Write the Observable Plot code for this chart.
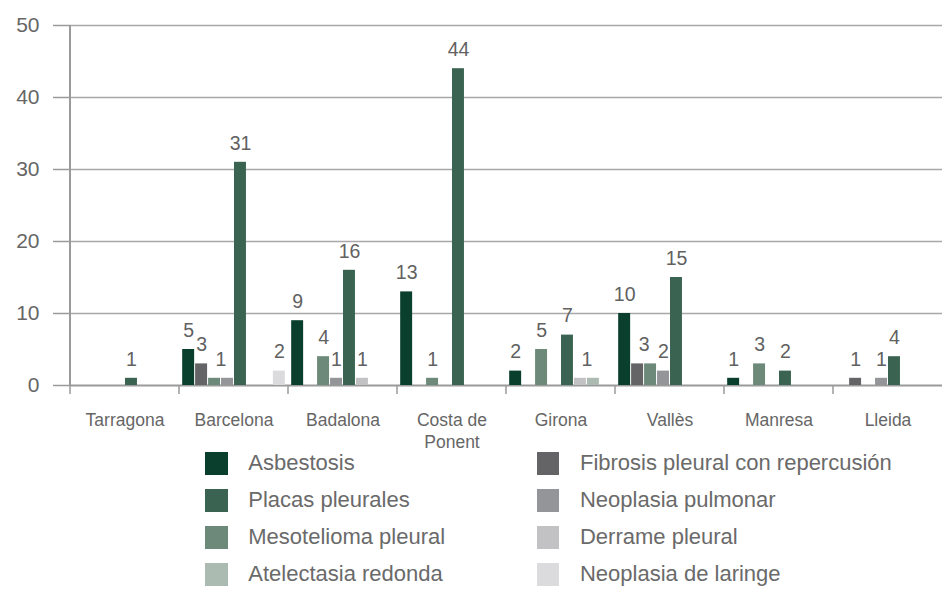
<!DOCTYPE html>
<html><head><meta charset="utf-8">
<script src="https://cdn.jsdelivr.net/npm/d3@7"></script>
<script src="https://cdn.jsdelivr.net/npm/@observablehq/plot@0.6"></script>
<style>
body{margin:0;background:#fff;font-family:"Liberation Sans",Arial,sans-serif;}
#chart svg{display:block;}
#legend{display:grid;grid-template-columns:331.7px auto;grid-template-rows:repeat(4,22.5px);row-gap:14.5px;grid-auto-flow:column;padding-left:205px;margin-top:-8px;}
.item{display:flex;align-items:center;font-size:22px;color:#6a6a6a;white-space:nowrap;}
.sw{width:22.7px;height:22.5px;margin-right:20.6px;flex:none;}
</style></head><body><div id="chart"></div><div id="legend"></div>
<script>
const regions = ["Tarragona","Barcelona","Badalona","Costa de Ponent","Girona","Vallès","Manresa","Lleida"];
const series = ["Asbestosis","Fibrosis pleural con repercusión","Mesotelioma pleural","Neoplasia pulmonar","Placas pleurales","Derrame pleural","Atelectasia redonda","Neoplasia de laringe"];
const colors = ["#0b3f2d","#646466","#6c8979","#949598","#3a6451","#c2c2c5","#abbbb1","#dbdbdd"];
const legendOrder = ["Asbestosis","Placas pleurales","Mesotelioma pleural","Atelectasia redonda","Fibrosis pleural con repercusión","Neoplasia pulmonar","Derrame pleural","Neoplasia de laringe"];
const asbestosis        = [0, 5, 9, 13, 2, 10, 1, 0];
const fibrosis          = [0, 3, 0, 0, 0, 3, 0, 1];
const mesotelioma       = [0, 1, 4, 1, 5, 3, 3, 0];
const neoplasiaPulmonar = [0, 1, 1, 0, 0, 2, 0, 1];
const placas            = [1, 31, 16, 44, 7, 15, 2, 4];
const derrame           = [0, 0, 1, 0, 1, 0, 0, 0];
const atelectasia       = [0, 0, 0, 0, 1, 0, 0, 0];
const laringe           = [0, 2, 0, 0, 0, 0, 0, 0];
const yTicks = [0, 10, 20, 30, 40, 50];

const valuesBySeries = [asbestosis, fibrosis, mesotelioma, neoplasiaPulmonar, placas, derrame, atelectasia, laringe];
const data = [];
regions.forEach((r, i) => series.forEach((s, k) => {
  const v = valuesBySeries[k][i];
  if (v > 0) data.push({region: r, series: s, value: v});
}));
// labels: adjacent equal values share one centered label
const single = [], merged = [];
regions.forEach((r, i) => {
  for (let k = 0; k < series.length; k++) {
    const v = valuesBySeries[k][i];
    if (!(v > 0)) continue;
    if (k + 1 < series.length && valuesBySeries[k + 1][i] === v) {
      merged.push({region: r, series: series[k], value: v});
      k++;
    } else single.push({region: r, series: series[k], value: v});
  }
});

function build(mdx) {
  return Plot.plot({
    width: 943, height: 460,
    marginLeft: 68, marginRight: 0, marginTop: 25, marginBottom: 75,
    style: {fontFamily: "'Liberation Sans', Arial, sans-serif", background: "#fff", fontSize: "17px"},
    fx: {domain: regions, padding: 0, label: null},
    x: {domain: series, paddingInner: 1/13, paddingOuter: 0.245, axis: null, round: false},
    y: {domain: [0, 50], label: null},
    color: {domain: series, range: colors},
    marks: [
      Plot.gridY(yTicks.slice(1), {stroke: "#a8a8a8", strokeOpacity: 1, strokeWidth: 1.5}),
      Plot.ruleY([0], {stroke: "#9a9a9a", strokeWidth: 2}),
      Plot.axisY(yTicks, {tickSize: 17, tickPadding: 14, fontSize: 21, fill: "#666", stroke: "#9a9a9a", strokeWidth: 1.5, label: null}),
      Plot.axisFx({anchor: "bottom", tickSize: 0, tickPadding: 25, fontSize: 17.5, lineWidth: 6, lineHeight: 1.24, fill: "#666", label: null}),
      Plot.barY(data, {fx: "region", x: "series", y: "value", fill: "series"}),
      Plot.text(single, {fx: "region", x: "series", y: "value", text: d => String(d.value), dy: -19, fontSize: 19.5, fill: "#616161"}),
      Plot.text(merged, {fx: "region", x: "series", y: "value", text: d => String(d.value), dy: -19, dx: mdx, fontSize: 19.5, fill: "#616161"})
    ]
  });
}
let plot = build(0);
const xs = plot.scale("x");
const step = xs.step ?? (xs.bandwidth / (1 - (xs.paddingInner ?? 0)));
plot = build(step / 2);
document.getElementById("chart").appendChild(plot);

// axis line and category boundary ticks
const fx = plot.scale("fx"), y = plot.scale("y");
const svg = d3.select(plot);
const y0 = y.apply(0), yTop = y.apply(50);
const x0 = fx.apply(regions[0]);
svg.append("line").attr("x1", x0).attr("x2", x0).attr("y1", yTop).attr("y2", y0)
  .attr("stroke", "#9a9a9a").attr("stroke-width", 2);
regions.forEach(r => {
  const xb = fx.apply(r);
  svg.append("line").attr("x1", xb).attr("x2", xb).attr("y1", y0).attr("y2", y0 + 9)
    .attr("stroke", "#9a9a9a").attr("stroke-width", 1.5);
});

// legend
const color = plot.scale("color");
const lg = document.getElementById("legend");
legendOrder.forEach(s => {
  const it = document.createElement("div"); it.className = "item";
  const sw = document.createElement("div"); sw.className = "sw"; sw.style.background = color.apply(s);
  const tx = document.createElement("span"); tx.textContent = s;
  it.appendChild(sw); it.appendChild(tx); lg.appendChild(it);
});
</script></body></html>
